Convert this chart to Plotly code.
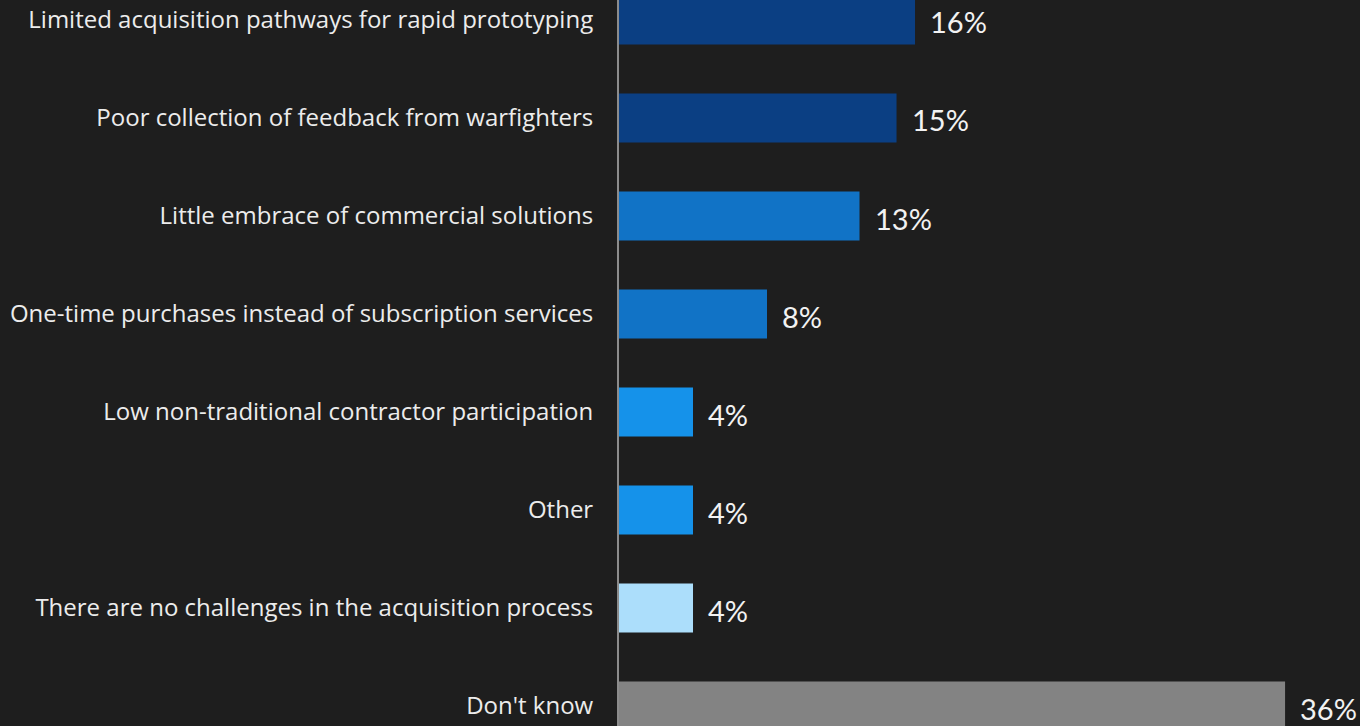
import plotly.graph_objects as go

# Survey responses: biggest acquisition challenges
categories = [
    "Limited acquisition pathways for rapid prototyping",
    "Poor collection of feedback from warfighters",
    "Little embrace of commercial solutions",
    "One-time purchases instead of subscription services",
    "Low non-traditional contractor participation",
    "Other",
    "There are no challenges in the acquisition process",
    "Don't know",
]
values = [16, 15, 13, 8, 4, 4, 4, 36]
bar_colors = ["#0b3f83", "#0b3f83", "#1173c6", "#1173c6",
              "#1592ea", "#1592ea", "#acdefb", "#838383"]

positions = list(range(len(categories)))

fig = go.Figure(
    go.Bar(
        x=values,
        y=positions,
        orientation="h",
        width=0.5,
        marker=dict(color=bar_colors, line=dict(width=0)),
        hoverinfo="skip",
    )
)

for pos, val in zip(positions, values):
    fig.add_annotation(
        x=val, y=pos, xref="x", yref="y",
        text=f"{val}%", showarrow=False,
        xanchor="left", yanchor="middle", xshift=13, yshift=-2,
        font=dict(family="Lato, sans-serif", size=29, color="#f2f2f2"),
    )

fig.update_layout(
    width=1360, height=726,
    margin=dict(l=619, r=0, t=0, b=0),
    paper_bgcolor="#1e1e1e",
    plot_bgcolor="#1e1e1e",
    showlegend=False,
    bargap=0.5,
)
fig.update_xaxes(range=[0, 40.05], visible=False, fixedrange=True)
fig.update_yaxes(
    range=[7.204, -0.204],
    tickvals=positions,
    ticktext=categories,
    tickfont=dict(family="Open Sans, sans-serif", size=24, color="#ececec"),
    showgrid=False, zeroline=False,
    showline=True, linecolor="#8c8c8c", linewidth=2,
    ticks="", ticklabelstandoff=19,
    fixedrange=True,
)

fig.write_html("out.html")
